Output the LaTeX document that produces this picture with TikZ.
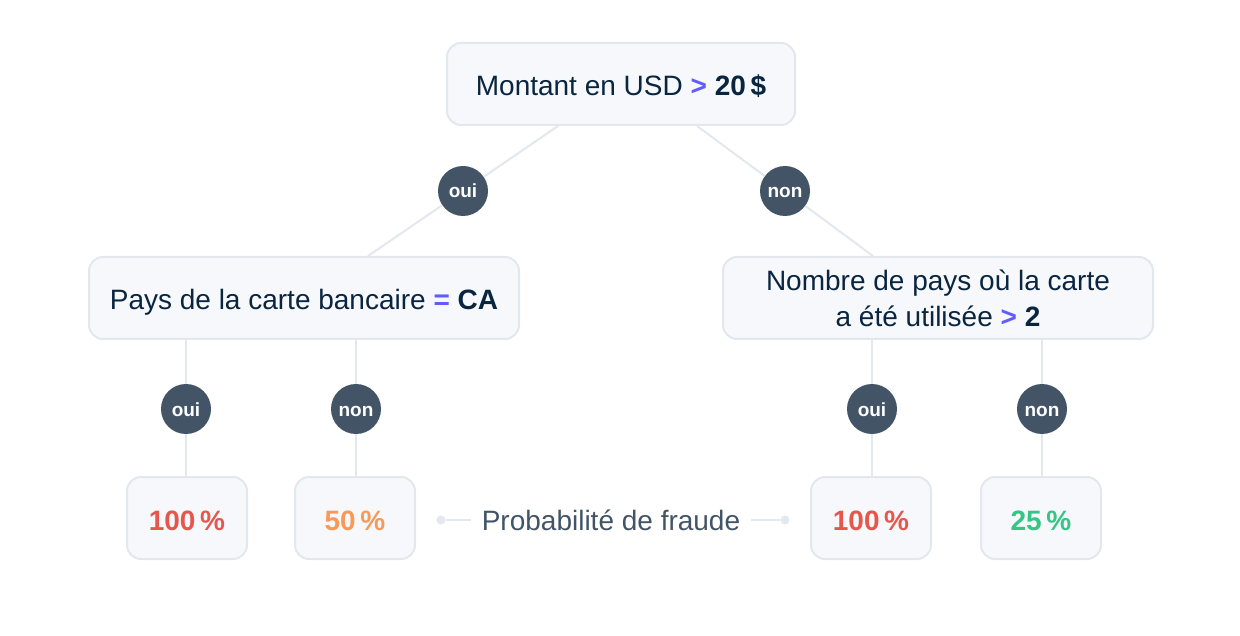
\documentclass[tikz,border=0pt]{standalone}
\usepackage{fontspec}
\setmainfont{Liberation Sans}
\usetikzlibrary{positioning}

\definecolor{navy}{HTML}{0A2540}
\definecolor{slate}{HTML}{425466}
\definecolor{violetop}{HTML}{635BFF}
\definecolor{boxfill}{HTML}{F6F8FB}
\definecolor{boxline}{HTML}{E3E8EE}
\definecolor{rouge}{HTML}{E5564D}
\definecolor{orange}{HTML}{F79A59}
\definecolor{vert}{HTML}{35C584}

\newcommand{\opsym}[1]{{\color{violetop}\bfseries #1}}
\newcommand{\valsym}[1]{{\bfseries #1}}

\tikzset{
  boxnode/.style={draw=boxline, fill=boxfill, line width=2pt, rounded corners=14pt,
    minimum height=82pt, align=center, text=navy, font=\fontsize{28}{36}\selectfont},
  oneline/.style={text height=24pt, text depth=0pt},
  leafnode/.style={boxnode, oneline, minimum width=120pt, font=\bfseries\fontsize{28}{36}\selectfont},
  choice/.style={circle, fill=slate, text=white, minimum size=50pt, inner sep=0pt,
    text height=14pt, text depth=0pt, font=\bfseries\fontsize{19}{19}\selectfont},
  edge/.style={draw=boxline, line width=2pt},
  dot/.style={circle, fill=boxline, minimum size=9pt, inner sep=0pt}
}

\begin{document}
\begin{tikzpicture}[x=1pt, y=-1pt]
  \useasboundingbox (0,0) rectangle (1240,636);
  % noeuds de décision
  \node[boxnode, oneline, minimum width=348pt] (montant) at (621,84)
    {Montant en USD \opsym{>} \valsym{20\,\$}};
  \node[boxnode, oneline, minimum width=430pt] (pays) at (304,298)
    {Pays de la carte bancaire \opsym{=} \valsym{CA}};
  \node[boxnode, minimum width=430pt] (nombre) at (938,298)
    {Nombre de pays où la carte\\a été utilisée \opsym{>} \valsym{2}};
  % réponses
  \node[choice] (ouiM) at (463,191) {oui};
  \node[choice] (nonM) at (785,191) {non};
  \node[choice] (ouiP) at (186,409) {oui};
  \node[choice] (nonP) at (356,409) {non};
  \node[choice] (ouiN) at (872,409) {oui};
  \node[choice] (nonN) at (1042,409) {non};
  % feuilles
  \node[leafnode, text=rouge] (feuille1) at (187,518) {100\,\%};
  \node[leafnode, text=orange] (feuille2) at (355,518) {50\,\%};
  \node[leafnode, text=rouge] (feuille3) at (871,518) {100\,\%};
  \node[leafnode, text=vert] (feuille4) at (1041,518) {25\,\%};
  % légende
  \node[text=slate, inner xsep=11pt, text height=20pt, text depth=0pt,
    font=\fontsize{28}{36}\selectfont] (legende) at (611,520) {Probabilité de fraude};
  \node[dot] (dotG) at (441,520) {};
  \node[dot] (dotD) at (785,520) {};
  % liaisons
  \draw[edge] ([xshift=-63pt]montant.south) -- (ouiM) -- ([xshift=64pt]pays.north);
  \draw[edge] ([xshift=76pt]montant.south) -- (nonM) -- ([xshift=-65pt]nombre.north);
  \draw[edge] (pays.south -| ouiP) -- (ouiP) -- (ouiP |- feuille1.north);
  \draw[edge] (pays.south -| nonP) -- (nonP) -- (nonP |- feuille2.north);
  \draw[edge] (nombre.south -| ouiN) -- (ouiN) -- (ouiN |- feuille3.north);
  \draw[edge] (nombre.south -| nonN) -- (nonN) -- (nonN |- feuille4.north);
  \draw[edge] (dotG) -- (legende.west);
  \draw[edge] (legende.east) -- (dotD);
\end{tikzpicture}
\end{document}
